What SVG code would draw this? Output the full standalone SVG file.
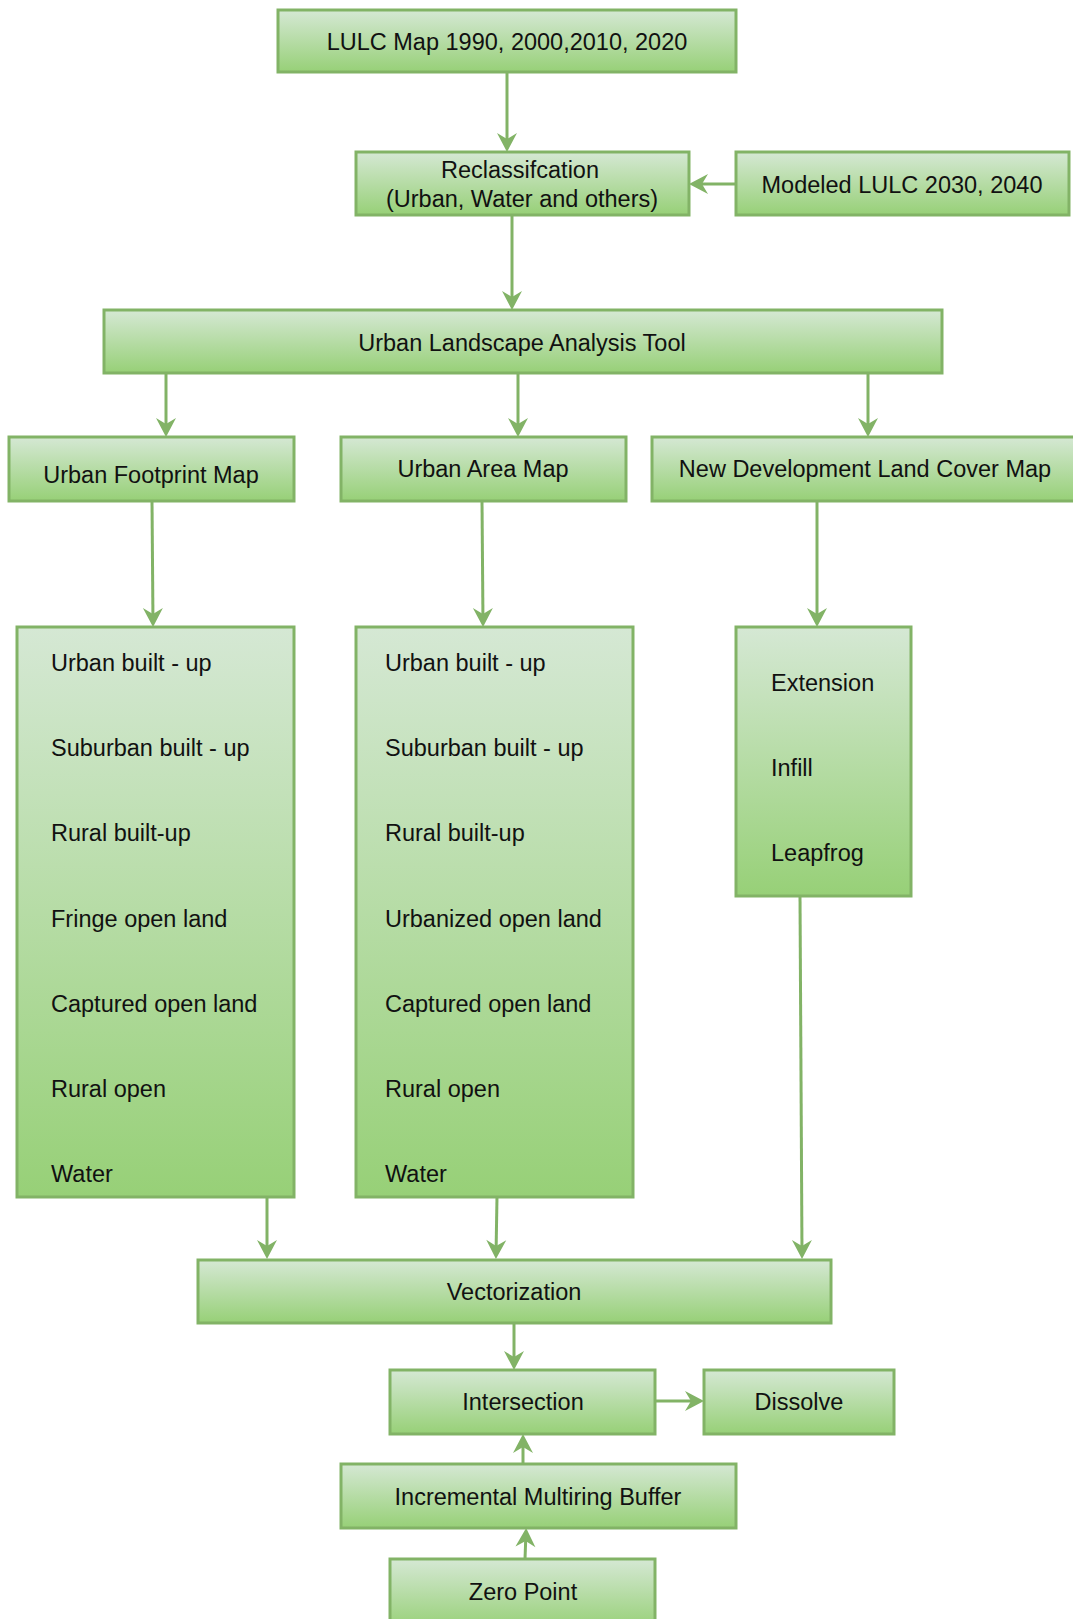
<svg xmlns="http://www.w3.org/2000/svg" width="1073" height="1619" viewBox="0 0 1073 1619">
  <style>
    .box { fill: url(#g); stroke: #82b366; stroke-width: 3; }
    .t { font-family: "Liberation Sans", Arial, sans-serif; font-size: 23.5px; fill: #111; }
    .c { text-anchor: middle; }
    .edge { fill: none; stroke: #82b366; stroke-width: 3; marker-end: url(#arr); }
  </style>
  <defs>
    <linearGradient id="g" x1="0" y1="0" x2="0" y2="1">
      <stop offset="0" stop-color="#d5e8d4"/>
      <stop offset="1" stop-color="#97d077"/>
    </linearGradient>
    <marker id="arr" markerUnits="userSpaceOnUse" viewBox="-16 -11 22 22" refX="0" refY="0" markerWidth="22" markerHeight="22" orient="auto" overflow="visible">
      <path d="M4,0 L-15,-10 L-9,0 L-15,10 Z" fill="#82b366"/>
    </marker>
  </defs>

  <rect width="1073" height="1619" fill="#ffffff"/>

  <!-- connectors -->
  <g id="connectors">
    <line class="edge" x1="507" y1="72" x2="507" y2="148"/>
    <line class="edge" x1="736" y1="184" x2="693" y2="184"/>
    <line class="edge" x1="512" y1="215" x2="512" y2="306"/>
    <line class="edge" x1="166" y1="373" x2="166" y2="433"/>
    <line class="edge" x1="518" y1="373" x2="518" y2="433"/>
    <line class="edge" x1="868" y1="373" x2="868" y2="433"/>
    <line class="edge" x1="152" y1="501" x2="153" y2="623"/>
    <line class="edge" x1="482" y1="501" x2="483" y2="623"/>
    <line class="edge" x1="817" y1="501" x2="817" y2="623"/>
    <line class="edge" x1="267" y1="1197" x2="267" y2="1255"/>
    <line class="edge" x1="497" y1="1197" x2="496" y2="1255"/>
    <line class="edge" x1="800" y1="896" x2="802" y2="1255"/>
    <line class="edge" x1="514" y1="1323" x2="514" y2="1366"/>
    <line class="edge" x1="655" y1="1401" x2="700" y2="1401"/>
    <line class="edge" x1="523" y1="1464" x2="523" y2="1438"/>
    <line class="edge" x1="525" y1="1559" x2="526" y2="1532"/>
  </g>

  <!-- nodes -->
  <g id="lulc-maps">
    <rect class="box" x="278" y="10" width="458" height="62"/>
    <text class="t c" x="507" y="50">LULC Map 1990, 2000,2010, 2020</text>
  </g>
  <g id="reclassification">
    <rect class="box" x="356" y="152" width="333" height="63"/>
    <text class="t c" x="520" y="178">Reclassifcation</text>
    <text class="t c" x="522" y="207">(Urban, Water and others)</text>
  </g>
  <g id="modeled-lulc">
    <rect class="box" x="736" y="152" width="333" height="63"/>
    <text class="t c" x="902" y="193">Modeled LULC 2030, 2040</text>
  </g>
  <g id="ulat">
    <rect class="box" x="104" y="310" width="838" height="63"/>
    <text class="t c" x="522" y="351">Urban Landscape Analysis Tool</text>
  </g>
  <g id="urban-footprint-map">
    <rect class="box" x="9" y="437" width="285" height="64"/>
    <text class="t c" x="151" y="483">Urban Footprint Map</text>
  </g>
  <g id="urban-area-map">
    <rect class="box" x="341" y="437" width="285" height="64"/>
    <text class="t c" x="483" y="477">Urban Area Map</text>
  </g>
  <g id="new-development-map">
    <rect class="box" x="652" y="437" width="426" height="64"/>
    <text class="t c" x="865" y="477">New Development Land Cover Map</text>
  </g>

  <g id="footprint-classes">
    <rect class="box" x="17" y="627" width="277" height="570"/>
    <text class="t" x="51" y="671">Urban built - up</text>
    <text class="t" x="51" y="756">Suburban built - up</text>
    <text class="t" x="51" y="841">Rural built-up</text>
    <text class="t" x="51" y="927">Fringe open land</text>
    <text class="t" x="51" y="1012">Captured open land</text>
    <text class="t" x="51" y="1097">Rural open</text>
    <text class="t" x="51" y="1182">Water</text>
  </g>
  <g id="area-classes">
    <rect class="box" x="356" y="627" width="277" height="570"/>
    <text class="t" x="385" y="671">Urban built - up</text>
    <text class="t" x="385" y="756">Suburban built - up</text>
    <text class="t" x="385" y="841">Rural built-up</text>
    <text class="t" x="385" y="927">Urbanized open land</text>
    <text class="t" x="385" y="1012">Captured open land</text>
    <text class="t" x="385" y="1097">Rural open</text>
    <text class="t" x="385" y="1182">Water</text>
  </g>
  <g id="development-classes">
    <rect class="box" x="736" y="627" width="175" height="269"/>
    <text class="t" x="771" y="691">Extension</text>
    <text class="t" x="771" y="776">Infill</text>
    <text class="t" x="771" y="861">Leapfrog</text>
  </g>

  <g id="vectorization">
    <rect class="box" x="198" y="1260" width="633" height="63"/>
    <text class="t c" x="514" y="1300">Vectorization</text>
  </g>
  <g id="intersection">
    <rect class="box" x="390" y="1370" width="265" height="64"/>
    <text class="t c" x="523" y="1410">Intersection</text>
  </g>
  <g id="dissolve">
    <rect class="box" x="704" y="1370" width="190" height="64"/>
    <text class="t c" x="799" y="1410">Dissolve</text>
  </g>
  <g id="multiring-buffer">
    <rect class="box" x="341" y="1464" width="395" height="64"/>
    <text class="t c" x="538" y="1505">Incremental Multiring Buffer</text>
  </g>
  <g id="zero-point">
    <rect class="box" x="390" y="1559" width="265" height="70"/>
    <text class="t c" x="523" y="1600">Zero Point</text>
  </g>
</svg>
